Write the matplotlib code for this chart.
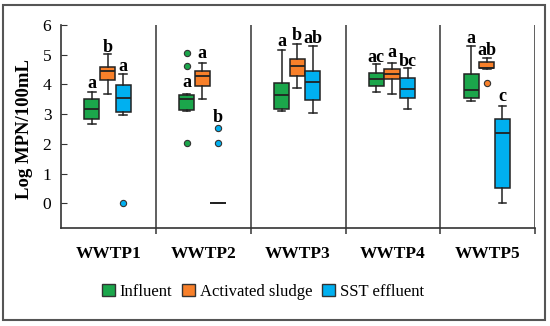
import matplotlib
matplotlib.use("Agg")
import matplotlib.pyplot as plt
from matplotlib.patches import Patch, Rectangle

plt.rcParams['font.family'] = ['Liberation Serif', 'DejaVu Serif']

plants = ["WWTP1", "WWTP2", "WWTP3", "WWTP4", "WWTP5"]
series = ["Influent", "Activated sludge", "SST effluent"]
colors = ["#1ba64b", "#f8802a", "#00b0f0"]

# box statistics per series: [whislo, q1, med, q3, whishi] for each plant
influent = [
    [2.67, 2.85, 3.17, 3.52, 3.76],
    [3.11, 3.15, 3.51, 3.65, 3.69],
    [3.12, 3.18, 3.63, 4.04, 5.17],
    [3.76, 3.96, 4.18, 4.40, 4.69],
    [3.43, 3.56, 3.80, 4.36, 5.28],
]
sludge = [
    [3.68, 4.15, 4.44, 4.60, 5.02],
    [3.51, 3.96, 4.27, 4.46, 4.74],
    [3.88, 4.29, 4.61, 4.87, 5.37],
    [3.68, 4.19, 4.36, 4.52, 4.72],
    [4.53, 4.55, 4.55, 4.77, 4.89],
]
effluent = [
    [2.96, 3.07, 3.54, 3.99, 4.35],
    [0.0, 0.0, 0.0, 0.0, 0.0],
    [3.04, 3.49, 4.08, 4.44, 5.29],
    [3.18, 3.56, 3.84, 4.22, 4.57],
    [0.0, 0.51, 2.36, 2.85, 3.26],
]
influent_out = [[], [5.06, 4.63, 2.03], [], [], []]
sludge_out = [[], [], [], [], [4.04]]
effluent_out = [[0.0], [2.55, 2.03], [], [], []]

# significance letters and their baselines
influent_letters = ["a", "a", "a", "ac", "a"]
sludge_letters = ["b", "a", "b", "a", "ab"]
effluent_letters = ["a", "b", "ab", "bc", "c"]
influent_letter_y = [3.88, 3.93, 5.28, 4.77, 5.39]
sludge_letter_y = [5.09, 4.89, 5.50, 4.92, 5.00]
effluent_letter_y = [4.44, 2.75, 5.39, 4.61, 3.43]

all_stats = [influent, sludge, effluent]
all_out = [influent_out, sludge_out, effluent_out]
all_letters = [influent_letters, sludge_letters, effluent_letters]
all_letter_y = [influent_letter_y, sludge_letter_y, effluent_letter_y]
offsets = [-0.175, -0.01, 0.155]

fig = plt.figure(figsize=(5.5, 3.26), dpi=100)
ax = fig.add_axes([0.111, 0.301, 0.862, 0.622])

for si in range(3):
    stats = []
    for pi in range(5):
        s = all_stats[si][pi]
        stats.append(dict(whislo=s[0], q1=s[1], med=s[2], q3=s[3], whishi=s[4],
                          fliers=all_out[si][pi]))
    pos = [pi + 1 + offsets[si] for pi in range(5)]
    ax.bxp(stats, positions=pos, widths=0.16, patch_artist=True,
           boxprops=dict(facecolor=colors[si], edgecolor="#222222", linewidth=1.1),
           medianprops=dict(color="#222222", linewidth=1.3),
           whiskerprops=dict(color="#222222", linewidth=1.1),
           capprops=dict(color="#222222", linewidth=1.1),
           capwidths=0.08,
           flierprops=dict(marker="o", markerfacecolor=colors[si],
                           markeredgecolor="#333333", markersize=4.5,
                           markeredgewidth=0.8),
           manage_ticks=False)
    for pi in range(5):
        ax.text(pos[pi], all_letter_y[si][pi], all_letters[si][pi],
                ha="center", va="baseline", fontsize=13, fontweight="bold")

ax.set_xlim(0.5, 5.5)
ax.set_ylim(-0.83, 6)
ax.set_yticks(range(0, 7))
ax.tick_params(axis="y", direction="in", length=4, labelsize=12.5, pad=7,
               color="#333333")
ax.set_xticks(range(1, 6))
ax.set_xticklabels(plants, fontsize=12.5, fontweight="bold")
ax.tick_params(axis="x", which="major", length=0, pad=13)
ax.set_xticks([1.5, 2.5, 3.5, 4.5, 5.5], minor=True)
ax.tick_params(axis="x", which="minor", direction="out", length=4,
               color="#444444", width=1.2)
for xv in [1.5, 2.5, 3.5, 4.5, 5.5]:
    ax.axvline(xv, color="#444444", linewidth=1.2)
for sp in ["top", "right"]:
    ax.spines[sp].set_visible(False)
for sp in ["left", "bottom"]:
    ax.spines[sp].set_color("#333333")
    ax.spines[sp].set_linewidth(1.2)

fig.text(0.044, 0.605, "Log MPN/100mL", rotation=90, ha="center", va="center",
         fontsize=13.5, fontweight="bold")

handles = [Patch(facecolor=c, edgecolor="#333333", linewidth=1.0) for c in colors]
fig.legend(handles, series, loc="center", bbox_to_anchor=(0.478, 0.104), ncol=3,
           frameon=False, fontsize=12, handlelength=0.75, handleheight=0.75,
           handletextpad=0.3, columnspacing=0.6)

fig.patches.append(Rectangle((0.0055, 0.018), 0.985, 0.966, transform=fig.transFigure,
                             fill=False, edgecolor="#555555", linewidth=1.5))

fig.savefig("out.png", dpi=100)
